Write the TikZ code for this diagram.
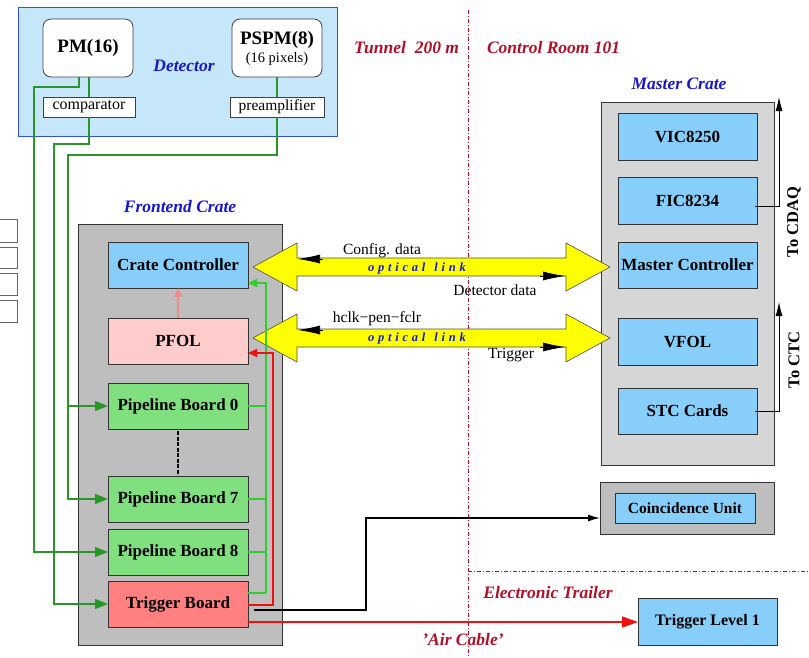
\documentclass[tikz,border=0pt]{standalone}
\usepackage{fontspec}
\setmainfont{Liberation Serif}
\newfontfamily\linkfont{Liberation Serif}[LetterSpace=30]
\usetikzlibrary{arrows.meta,calc}

\newcommand\setfs[1]{\fontsize{#1}{#1}\selectfont}

\definecolor{detfill}{HTML}{C6E6FA}
\definecolor{detline}{HTML}{3050E0}
\definecolor{modblue}{HTML}{87CEFA}
\definecolor{pfolpink}{HTML}{FFCCCC}
\definecolor{boardgreen}{HTML}{80E080}
\definecolor{trigred}{HTML}{FF8080}
\definecolor{crategray}{HTML}{BEBEBE}
\definecolor{mastergray}{HTML}{D6D6D6}
\definecolor{zonered}{HTML}{B01028}
\definecolor{labelblue}{HTML}{1818C8}
\definecolor{wiregreen}{HTML}{2A962A}
\definecolor{busgreen}{HTML}{30CC30}
\definecolor{sigred}{HTML}{F01010}
\definecolor{linkyellow}{HTML}{FFFF00}
\definecolor{pinkarrow}{HTML}{F08C8C}

\tikzset{
  every node/.style={inner sep=0pt, outer sep=0pt},
  unit/.style={draw=black!80, line width=0.8pt, font=\setfs{17}\bfseries,
    minimum width=140pt, minimum height=46pt},
  crate/.style={draw=black!80, line width=0.8pt},
  smallbox/.style={draw=black!75, fill=white, line width=0.8pt,
    font=\setfs{15.5}, minimum height=20pt},
  sensor/.style={draw=black!75, fill=white, line width=0.8pt,
    rounded corners=8pt, minimum width=90pt, minimum height=58pt, align=center},
  bluelabel/.style={text=labelblue, font=\setfs{17.5}\bfseries\itshape},
  zonelabel/.style={text=zonered, font=\setfs{17.5}\bfseries\itshape},
  plain/.style={font=\setfs{15.5}},
  linktext/.style={text=labelblue, font=\linkfont\setfs{12.5}\bfseries\itshape},
  zoneline/.style={draw=zonered, line width=1pt,
    dash pattern=on 4pt off 2pt on 1pt off 2pt},
  wire/.style={draw=wiregreen, line width=1.3pt},
  wirehead/.style={wire, -{Triangle[length=13pt,width=10pt]}},
  bus/.style={draw=busgreen, line width=1.3pt},
  sig/.style={draw=sigred, line width=1.4pt},
  linkarrow/.style={fill=linkyellow, draw=black!70, line width=0.6pt},
  sidelabel/.style={font=\setfs{16.5}\bfseries, rotate=90},
}

% yellow double-headed optical link between two tip coordinates
\newcommand\opticlink[2]{%
  \draw[linkarrow] (#1) -- ++(44,-24) -- ++(0,15) -- ($(#2)+(-44,-9)$)
    -- ++(0,-15) -- (#2) -- ++(-44,24) -- ++(0,-15) -- ($(#1)+(44,9)$)
    -- ++(0,15) -- cycle;
  \draw[line width=0.7pt, -{Latex[length=22pt,width=9pt]}]
    ($(#1)+(70,-8)$) -- ($(#1)+(45,-8)$);
  \draw[line width=0.7pt, -{Latex[length=22pt,width=9pt]}]
    ($(#2)+(-70,9)$) -- ($(#2)+(-45,9)$);
}

\begin{document}
\begin{tikzpicture}[x=1pt, y=-1pt]
\useasboundingbox (0,0) rectangle (809,657);

% stray module slots at the left margin
\foreach \ya/\yb in {219/242, 247/268, 273/295, 300/322}
  \draw[draw=black!60, fill=white, line width=0.8pt] (-2,\ya) rectangle (17,\yb);

% zone borders
\draw[zoneline] (468,10) -- (468,657);
\draw[zoneline] (468,571) -- (809,571);
\node[zonelabel, anchor=east] (tunnel) at (459,48) {Tunnel~~200 m};
\node[zonelabel, anchor=west] (croom) at (487,48) {Control Room 101};
\node[zonelabel] (trailer) at (548,593) {Electronic Trailer};

% detector
\node[draw=detline, fill=detfill, line width=1pt,
      minimum width=319pt, minimum height=129pt] (det) at (177.5,71.5) {};
\node[sensor, font=\setfs{19}\bfseries] (pm) at (88,48) {PM(16)};
\node[sensor] (pspm) at (277,48)
  {{\setfs{19}\bfseries PSPM(8)}\\[3pt]{\setfs{14.5}(16 pixels)}};
\node[bluelabel] (detlabel) at (184,66) {Detector};
\node[smallbox, minimum width=92pt, font=\setfs{16}] (comp) at (89,107) {comparator};
\node[smallbox, minimum width=94pt] (pre) at (277,107) {preamplifier};

% frontend crate
\node[crate, fill=crategray, minimum width=204pt, minimum height=421pt] (fcrate) at (180,434.5) {};
\node[bluelabel] (fclabel) at (180,207) {Frontend Crate};
\node[unit, fill=modblue] (cc) at (178,265) {Crate Controller};
\node[unit, fill=pfolpink] (pfol) at (178,341) {PFOL};
\node[unit, fill=boardgreen] (pb0) at (178,406) {Pipeline Board 0};
\node[unit, fill=boardgreen] (pb7) at (178,499) {Pipeline Board 7};
\node[unit, fill=boardgreen] (pb8) at (178,552) {Pipeline Board 8};
\node[unit, fill=trigred] (tb) at (178,604) {Trigger Board};

\draw[black, line width=2.6pt, dash pattern=on 4pt off 1.5pt]
  ($(pb0.south)+(0,2)$) -- ($(pb7.north)+(0,-1)$);
\draw[draw=pinkarrow, line width=1.6pt, -{Triangle[length=9pt,width=8pt]}]
  (pfol.north) -- (cc.south);

% master crate
\node[crate, fill=mastergray, minimum width=173pt, minimum height=363pt] (mcrate) at (687.5,283.5) {};
\node[bluelabel] (mclabel) at (679,84) {Master Crate};
\node[unit, fill=modblue, minimum width=139pt, minimum height=47pt] (vic) at (687.5,136.5) {VIC8250};
\node[unit, fill=modblue, minimum width=139pt, minimum height=47pt] (fic) at (687.5,200.5) {FIC8234};
\node[unit, fill=modblue, minimum width=139pt] (mc) at (687.5,265) {Master Controller};
\node[unit, fill=modblue, minimum width=139pt, minimum height=47pt] (vfol) at (687.5,341.5) {VFOL};
\node[unit, fill=modblue, minimum width=139pt] (stc) at (687.5,411) {STC Cards};

\draw[line width=0.8pt, -{Latex[length=14pt,width=7pt]}]
  ($(fic.east)+(-2,5.5)$) -- (779,206) -- (779,97);
\draw[line width=0.8pt, -{Latex[length=14pt,width=7pt]}]
  ($(stc.east)+(-2,0)$) -- (779,411) -- (779,302);
\node[sidelabel] (cdaq) at (794,222) {To CDAQ};
\node[sidelabel] (ctc) at (794,360) {To CTC};

% coincidence unit and level 1 trigger
\node[crate, fill=crategray, minimum width=174pt, minimum height=52pt] (coinc) at (687,508) {};
\node[draw=black!80, line width=0.8pt, fill=modblue, font=\setfs{15.5}\bfseries,
      minimum width=140pt, minimum height=30pt] (cu) at (685,508) {Coincidence Unit};
\node[unit, fill=modblue, font=\setfs{16}\bfseries, minimum width=139pt, minimum height=47pt] (tl1) at (707.5,622) {Trigger Level 1};

% optical links
\coordinate (ol1L) at ($(cc.east)+(5,2)$);
\coordinate (ol1R) at ($(mc.west)+(-8,2)$);
\coordinate (ol2L) at ($(pfol.east)+(5,-3)$);
\coordinate (ol2R) at ($(vfol.west)+(-8,-3.5)$);
\opticlink{ol1L}{ol1R}
\opticlink{ol2L}{ol2R}
\node[linktext] (lk1) at (417,268) {optical\, link};
\node[linktext] (lk2) at (417,338) {optical\, link};
\node[plain] (cfg) at (382,251) {Config. data};
\node[plain] (ddata) at (495,290) {Detector data};
\node[plain] (hclk) at (377,319) {hclk−pen−fclr};
\node[plain] (trg) at (511,355) {Trigger};

% detector signal cables
\draw[wirehead] ($(pm.south)+(-9,0)$) |- (34,87) |- (pb8.west);
\draw[wire] (pm.south -| comp.north) -- (comp.north);
\draw[wirehead] (comp.south) |- (54,144) |- (tb.west);
\draw[wire] (pspm.south) -- (pre.north);
\draw[wirehead] (pre.south) |- (68,155) |- (pb7.west);
\coordinate (split0) at (68,406);
\draw[wirehead] (split0) -- (pb0.west);

% readout bus to the crate controller
\coordinate (busbot) at (266,593);
\draw[bus] (pb0.east) -- (pb0.east -| busbot);
\draw[bus] (pb7.east) -- (pb7.east -| busbot);
\draw[bus] (pb8.east) -- (pb8.east -| busbot);
\draw[bus] (tb.east |- busbot) -- (busbot);
\draw[bus, -{Triangle[length=9pt,width=8pt]}]
  (busbot) -- (266,283) -- ($(cc.south east)+(0,-5)$);

% trigger board outputs
\draw[sig, -{Triangle[length=9pt,width=8pt]}]
  ($(tb.east)+(0,1)$) -- (273,605) -- (273,353) -- ($(pfol.east)+(0,12)$);
\draw[black, line width=1.4pt, -{Latex[length=12pt,width=7pt]}]
  ($(tb.east)+(6,6)$) -| (366,518) -- ($(coinc.west)+(0,10)$);
\draw[sig, -{Triangle[length=16pt,width=11pt]}]
  ($(tb.east)+(0,18)$) -- (tl1.west);
\node[zonelabel] (air) at (463,640) {'Air Cable'};

\end{tikzpicture}
\end{document}
